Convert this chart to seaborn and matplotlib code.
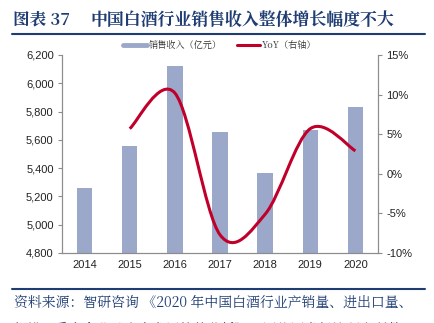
import matplotlib
matplotlib.use("Agg")
import matplotlib.pyplot as plt
import seaborn as sns
import pandas as pd
import numpy as np
from matplotlib.path import Path
from matplotlib.patches import PathPatch
from matplotlib.lines import Line2D
from matplotlib.ticker import FuncFormatter, FixedLocator

years = ["2014", "2015", "2016", "2017", "2018", "2019", "2020"]
revenue = [5259, 5559, 6125, 5654, 5364, 5670, 5833]
yoy_years = ["2015", "2016", "2017", "2018", "2019", "2020"]
yoy = [5.7, 10.2, -7.7, -5.1, 5.7, 2.9]

bar_color = "#9BA8CA"
line_color = "#C0002A"
blue = "#1F3D73"

sns.set_theme(style="white")
plt.rcParams["font.family"] = ["Liberation Sans", "Noto Sans CJK SC", "DejaVu Sans"]
cjk = ["Noto Serif CJK SC", "Noto Sans CJK SC", "DejaVu Sans"]

fig = plt.figure(figsize=(4.34, 3.23), dpi=100)
ax = fig.add_axes([62/434, 1-253/323, (378-62)/434, (253-55)/323])

df = pd.DataFrame({"year": years, "revenue": revenue})
sns.barplot(data=df, x="year", y="revenue", color=bar_color, saturation=1,
            width=0.34, ax=ax, edgecolor="none")
ax.set_ylim(4800, 6200)
ax.set_xlim(-0.5, 6.5)
ax.set_yticks(np.arange(4800, 6201, 200))
ax.yaxis.set_major_formatter(FuncFormatter(lambda v, p: f"{int(v):,}"))
ax.set_xlabel("")
ax.set_ylabel("")

ax2 = ax.twinx()
ax2.set_ylim(-10, 15)
ax2.set_yticks(np.arange(-10, 16, 5))
ax2.yaxis.set_major_formatter(FuncFormatter(lambda v, p: f"{int(v)}%"))

# smooth curve through the YoY points (Bezier path in data coordinates)
xs = [years.index(y) for y in yoy_years]
pts = list(zip(xs, yoy))
verts = [pts[0]]
codes = [Path.MOVETO]
n = len(pts)
for i in range(n - 1):
    p0 = pts[i - 1] if i > 0 else pts[i]
    p1 = pts[i]
    p2 = pts[i + 1]
    p3 = pts[i + 2] if i + 2 < n else pts[i + 1]
    c1 = (p1[0] + (p2[0] - p0[0]) / 6, p1[1] + (p2[1] - p0[1]) / 6)
    c2 = (p2[0] - (p3[0] - p1[0]) / 6, p2[1] - (p3[1] - p1[1]) / 6)
    verts += [c1, c2, p2]
    codes += [Path.CURVE4] * 3
patch = PathPatch(Path(verts, codes), facecolor="none", edgecolor=line_color,
                  lw=2.2, capstyle="butt", joinstyle="round")
ax2.add_patch(patch)

spine_c = "#8C8C8C"
for a in (ax, ax2):
    a.spines["top"].set_visible(False)
    for s in ("left", "right", "bottom"):
        a.spines[s].set_color(spine_c)
        a.spines[s].set_linewidth(0.8)
    a.grid(False)

ax.tick_params(axis="y", which="major", direction="out", length=3, width=0.8,
               color=spine_c, labelsize=8, labelcolor="#222222", pad=3)
ax2.tick_params(axis="y", which="major", direction="out", length=3, width=0.8,
                color=spine_c, labelsize=8, labelcolor="#222222", pad=3)
ax.tick_params(axis="x", which="major", length=0, labelsize=8,
               labelcolor="#222222", pad=5)
ax.xaxis.set_minor_locator(FixedLocator(np.arange(0.5, 6, 1)))
ax.tick_params(axis="x", which="minor", direction="out", length=3, width=0.8,
               color=spine_c)

handles = [Line2D([0], [0], color=bar_color, lw=3.5),
           Line2D([0], [0], color=line_color, lw=2.2)]
labels = ["销售收入（亿元）", "YoY（右轴）"]
leg = fig.legend(handles, labels, loc="center", bbox_to_anchor=(220/434, 1-45/323),
                 ncol=2, frameon=False, handlelength=2.6,
                 columnspacing=1.6, handletextpad=0.2,
                 prop={"family": cjk, "size": 6.6})
for t in leg.get_texts():
    t.set_color("#333333")

# title and rules
fig.text(13/434, 1-20/323, "图表 37", fontsize=12, fontweight="bold", color=blue,
         va="center", ha="left", family=cjk)
fig.text(90/434, 1-20/323, "中国白酒行业销售收入整体增长幅度不大",
         fontsize=12.2, fontweight="bold", color=blue, va="center", ha="left",
         family=cjk)
fig.add_artist(Line2D([12/434, 425/434], [1-34/323, 1-34/323], color=blue, lw=1.5,
                      transform=fig.transFigure))
fig.add_artist(Line2D([12/434, 425/434], [1-289/323, 1-289/323], color=blue, lw=1.5,
                      transform=fig.transFigure))
fig.text(14/434, 1-302/323, "资料来源：智研咨询 《2020 年中国白酒行业产销量、进出口量、",
         fontsize=10, color=blue, va="center", ha="left", family=cjk)
fig.text(14/434, 1-329/323, "规模、重点企业及未来发展趋势分析》，国信证券经济研究所整理",
         fontsize=10, color=blue, va="center", ha="left", family=cjk)

fig.savefig("out.png", dpi=100)
